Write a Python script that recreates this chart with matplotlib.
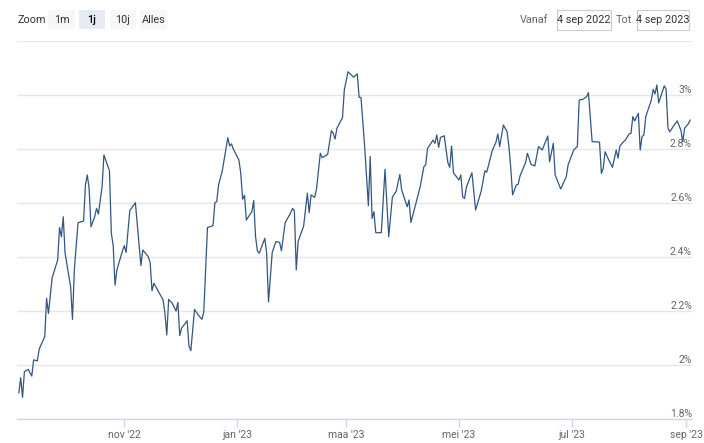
import matplotlib
matplotlib.use("Agg")
import matplotlib.pyplot as plt
from matplotlib.patches import Rectangle
import matplotlib.transforms as mtransforms
import pandas as pd

plt.rcParams['font.family'] = ['Roboto', 'DejaVu Sans']

# data: days since 4 sep 2022, yield in %
start = pd.Timestamp('2022-09-04')
day_offsets = [1, 2, 3, 4, 6, 8, 9, 11, 12, 15,
               16, 17, 19, 22, 23, 24, 25, 26, 29, 30,
               31, 33, 36, 37, 38, 39, 40, 42, 43, 44,
               46, 47, 50, 51, 52, 53, 54, 57, 58, 59,
               61, 64, 65, 67, 68, 71, 72, 73, 74, 79,
               80, 81, 82, 84, 86, 87, 88, 89, 92, 93,
               94, 96, 98, 100, 101, 103, 106, 107, 108, 109,
               111, 114, 115, 116, 117, 118, 120, 121, 122, 123,
               124, 127, 128, 129, 130, 131, 134, 135, 136, 138,
               140, 142, 143, 145, 148, 149, 150, 151, 152, 155,
               157, 158, 159, 161, 162, 164, 165, 168, 170, 171,
               172, 173, 176, 177, 179, 182, 184, 185, 186, 188,
               190, 191, 192, 193, 194, 197, 199, 201, 203, 205,
               207, 208, 211, 212, 213, 215, 218, 220, 221, 222,
               225, 226, 227, 228, 229, 231, 233, 234, 235, 236,
               238, 239, 240, 241, 242, 243, 246, 248, 251, 253,
               254, 257, 259, 260, 261, 263, 265, 266, 267, 268,
               270, 271, 272, 274, 275, 276, 278, 280, 282, 284,
               287, 288, 290, 291, 294, 297, 298, 301, 303, 304,
               306, 308, 309, 311, 313, 315, 316, 317, 318, 320,
               322, 324, 325, 326, 328, 329, 331, 332, 333, 334,
               336, 337, 338, 339, 340, 343, 344, 345, 346, 347,
               350, 351, 352, 353, 355, 357, 359, 360, 361, 363,
               364]
rates = [1.897, 1.953, 1.880, 1.975, 1.984, 1.959, 2.019, 2.015, 2.059, 2.105,
         2.247, 2.191, 2.323, 2.389, 2.509, 2.475, 2.549, 2.414, 2.290, 2.169,
         2.352, 2.527, 2.533, 2.667, 2.704, 2.654, 2.512, 2.549, 2.580, 2.559,
         2.660, 2.778, 2.719, 2.488, 2.444, 2.296, 2.352, 2.422, 2.442, 2.417,
         2.572, 2.601, 2.525, 2.368, 2.426, 2.401, 2.379, 2.275, 2.303, 2.241,
         2.191, 2.111, 2.243, 2.228, 2.200, 2.232, 2.109, 2.136, 2.164, 2.070,
         2.053, 2.206, 2.185, 2.169, 2.197, 2.509, 2.516, 2.601, 2.605, 2.667,
         2.719, 2.842, 2.811, 2.819, 2.799, 2.786, 2.759, 2.710, 2.614, 2.629,
         2.537, 2.568, 2.609, 2.475, 2.422, 2.414, 2.469, 2.414, 2.234, 2.417,
         2.457, 2.454, 2.423, 2.527, 2.564, 2.580, 2.570, 2.352, 2.457, 2.515,
         2.636, 2.564, 2.630, 2.621, 2.654, 2.784, 2.768, 2.780, 2.868, 2.858,
         2.837, 2.877, 2.916, 3.019, 3.086, 3.066, 3.078, 2.991, 2.991, 2.809,
         2.590, 2.772, 2.543, 2.568, 2.490, 2.490, 2.725, 2.475, 2.623, 2.642,
         2.706, 2.648, 2.586, 2.611, 2.528, 2.580, 2.660, 2.734, 2.741, 2.802,
         2.833, 2.821, 2.852, 2.806, 2.843, 2.849, 2.749, 2.732, 2.811, 2.712,
         2.694, 2.685, 2.704, 2.623, 2.617, 2.658, 2.712, 2.574, 2.644, 2.719,
         2.714, 2.794, 2.825, 2.856, 2.809, 2.889, 2.864, 2.809, 2.729, 2.630,
         2.667, 2.669, 2.700, 2.734, 2.750, 2.784, 2.743, 2.737, 2.809, 2.796,
         2.848, 2.753, 2.821, 2.704, 2.652, 2.697, 2.741, 2.796, 2.809, 2.981,
         2.984, 2.994, 3.009, 2.827, 2.827, 2.825, 2.710, 2.728, 2.790, 2.759,
         2.732, 2.796, 2.766, 2.811, 2.827, 2.833, 2.856, 2.858, 2.920, 2.904,
         2.932, 2.796, 2.846, 2.852, 2.920, 2.981, 3.021, 3.004, 3.037, 2.971,
         3.034, 3.021, 2.877, 2.864, 2.885, 2.904, 2.870, 2.827, 2.877, 2.893,
         2.907]

tick_dates = ['2022-11-01', '2023-01-01', '2023-03-01', '2023-05-01', '2023-07-01', '2023-09-01']
tick_labels = ["nov '22", "jan '23", "maa '23", "mei '23", "jul '23", "sep '23"]
y_ticks = [1.8, 2.0, 2.2, 2.4, 2.6, 2.8, 3.0]
y_labels = ['1.8%', '2%', '2.2%', '2.4%', '2.6%', '2.8%', '3%']
zoom_buttons = ['1m', '1j', '10j', 'Alles']
date_from = '4 sep 2022'
date_to = '4 sep 2023'

W, H = 704, 443
fig = plt.figure(figsize=(W / 100, H / 100), dpi=100)
fig.patch.set_facecolor('white')


def fx(x):
    return x / W


def fy(y):
    return 1 - y / H


ax = fig.add_axes([fx(17), fy(419), fx(692) - fx(17), fy(41) - fy(419)])
dates = start + pd.to_timedelta(day_offsets, unit='D')
ax.plot(dates, rates, color='#335680', lw=0.9, zorder=3)

ax.set_xlim(start, start + pd.Timedelta(days=365))
ax.set_ylim(1.8, 3.2)
for v in y_ticks[1:] + [3.2]:
    ax.axhline(v, color='#e6e6e6', lw=1.0, zorder=1)
ax.set_yticks([])

trans = mtransforms.blended_transform_factory(ax.transAxes, ax.transData)
for v, lab in zip(y_ticks, y_labels):
    ax.text(1.0, v, lab, transform=trans, ha='right', va='bottom',
            fontsize=7.5, color='#666666')

ax.set_xticks(pd.to_datetime(tick_dates))
ax.set_xticklabels(tick_labels, fontsize=7.5, color='#666666')
ax.tick_params(axis='x', length=6, width=1, color='#ccd6eb', pad=2)
for s in ['top', 'left', 'right']:
    ax.spines[s].set_visible(False)
ax.spines['bottom'].set_color('#ccd6eb')
ax.spines['bottom'].set_linewidth(1.0)

# range selector header
fs = 7.8
fig.text(fx(18), fy(20), 'Zoom', fontsize=fs, color='#333333', va='center')
btn_x = [48, 79, 110, 140]
btn_w = [27, 26, 26, 27]
for bx, bw, lab in zip(btn_x, btn_w, zoom_buttons):
    selected = lab == '1j'
    fig.add_artist(Rectangle((fx(bx), fy(29)), fx(bw), fy(10) - fy(29),
                             transform=fig.transFigure,
                             facecolor='#e6ebf5' if selected else '#f7f7f7',
                             edgecolor='none'))
    fig.text(fx(bx + bw / 2), fy(20), lab, fontsize=fs, ha='center', va='center',
             color='#000000' if selected else '#333333',
             fontweight='medium' if selected else 'normal')

fig.text(fx(548), fy(20), 'Vanaf', fontsize=fs, color='#666666', ha='right', va='center')
fig.text(fx(632), fy(20), 'Tot', fontsize=fs, color='#666666', ha='right', va='center')
for bx, bw, lab in [(557, 54, date_from), (637, 52, date_to)]:
    fig.add_artist(Rectangle((fx(bx), fy(30)), fx(bw), fy(10) - fy(30),
                             transform=fig.transFigure, facecolor='white',
                             edgecolor='#cccccc', lw=0.8))
    fig.text(fx(bx + bw / 2), fy(20), lab, fontsize=fs, ha='center', va='center',
             color='#333333')

fig.savefig('out.png', dpi=100)
